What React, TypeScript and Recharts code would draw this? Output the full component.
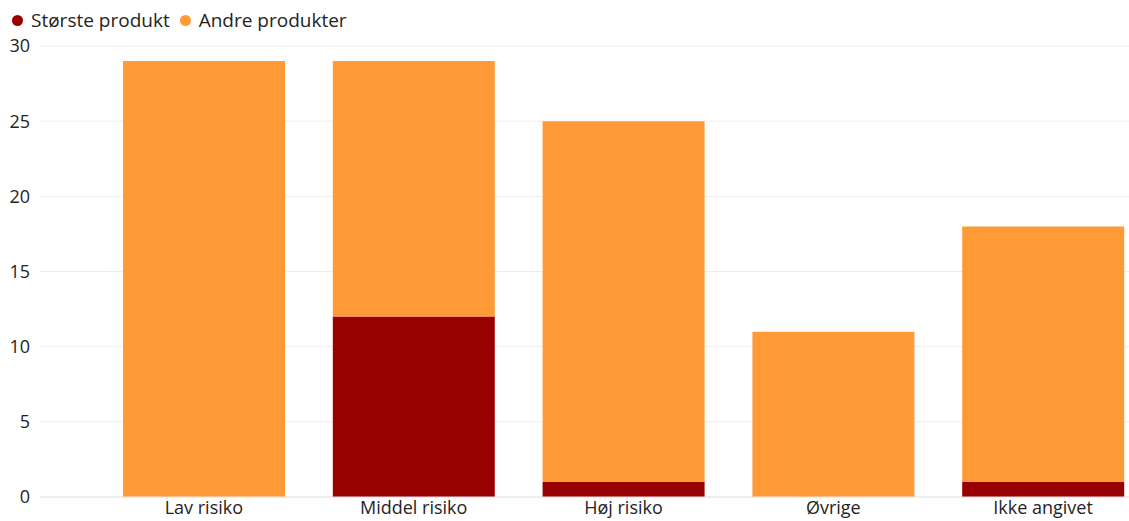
import { Bar, BarChart, CartesianGrid, XAxis, YAxis } from "recharts";

const categories = ["Lav risiko", "Middel risiko", "Høj risiko", "Øvrige", "Ikke angivet"];
const largestProduct = [0, 12, 1, 0, 1];
const otherProducts = [29, 17, 24, 11, 17];
const yTicks = [0, 5, 10, 15, 20, 25, 30];

const DARK_RED = "#990000";
const ORANGE = "#FF9A36";
const FONT = "'Open Sans', 'Noto Sans', sans-serif";

const series = [
  { key: "largest", name: "Største produkt", color: DARK_RED },
  { key: "other", name: "Andre produkter", color: ORANGE },
];

const data = categories.map((name, i) => ({
  name,
  largest: largestProduct[i],
  other: otherProducts[i],
}));

// legend drawn as html so it doesn't eat into the plot height
function LegendRow() {
  return (
    <div
      style={{
        position: "absolute",
        top: 8,
        left: 12,
        display: "flex",
        alignItems: "center",
        fontSize: 19,
        color: "#252423",
        lineHeight: "24px",
      }}
    >
      {series.map((s) => (
        <span key={s.key} style={{ display: "flex", alignItems: "center", marginRight: 10 }}>
          <span
            style={{
              width: 11,
              height: 11,
              borderRadius: "50%",
              background: s.color,
              marginRight: 8,
              display: "inline-block",
            }}
          />
          {s.name}
        </span>
      ))}
    </div>
  );
}

export default function App() {
  return (
    <div
      style={{
        position: "fixed",
        top: 0,
        left: 0,
        width: 1129,
        height: 521,
        overflow: "hidden",
        background: "#fff",
        fontFamily: FONT,
      }}
    >
      <LegendRow />
      <BarChart
        width={1160}
        height={521}
        data={data}
        margin={{ top: 46, right: 12, left: 0, bottom: 0 }}
        barCategoryGap={24}
      >
        <CartesianGrid vertical={false} stroke="#ececec" />
        <XAxis
          dataKey="name"
          padding={{ left: 59, right: 0 }}
          tickLine={false}
          tickSize={0}
          tickMargin={4}
          axisLine={{ stroke: "#e6e6e6" }}
          tick={{ fill: "#252423", fontSize: 18, fontFamily: FONT }}
          height={24}
          interval={0}
        />
        <YAxis
          ticks={yTicks}
          domain={[0, 30]}
          width={40}
          axisLine={false}
          tickLine={false}
          tick={{ fill: "#252423", fontSize: 18, fontFamily: FONT }}
          tickMargin={4}
        />
        {series.map((s) => (
          <Bar key={s.key} dataKey={s.key} name={s.name} stackId="a" fill={s.color} isAnimationActive={false} />
        ))}
      </BarChart>
    </div>
  );
}
